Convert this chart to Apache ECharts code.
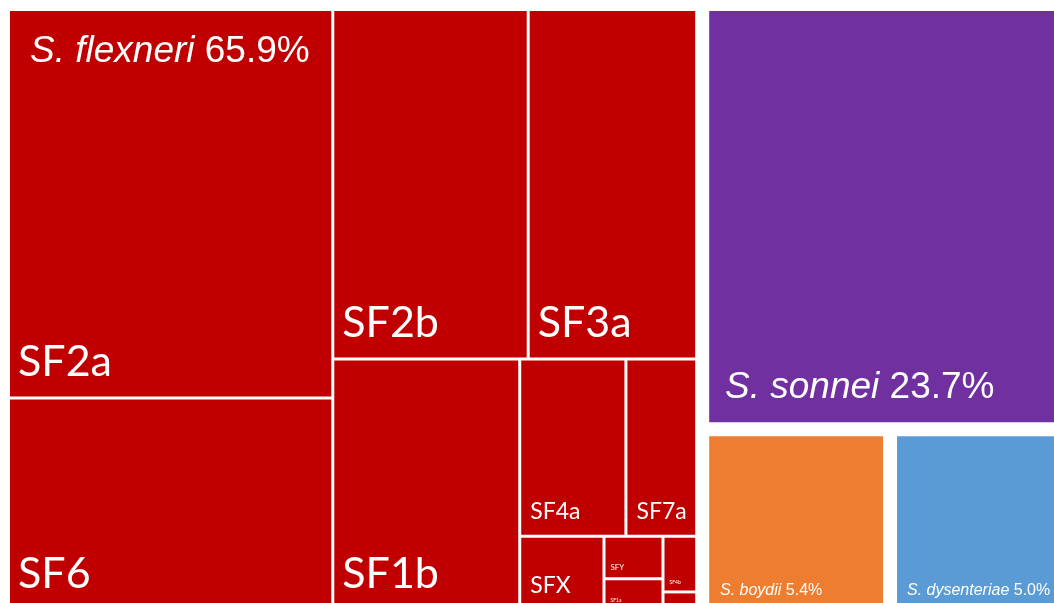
<!DOCTYPE html>
<html>
<head>
<meta charset="utf-8">
<title>Shigella species and S. flexneri serotypes</title>
<script src="https://cdn.jsdelivr.net/npm/echarts@6/dist/echarts.min.js"></script>
<style>
  html, body { margin: 0; padding: 0; background: #fff; }
  #chart { width: 1054px; height: 603px; }
</style>
</head>
<body>
<div id="chart"></div>
<script>
  // share of all isolates (%) per species
  var species = ['S. flexneri', 'S. sonnei', 'S. boydii', 'S. dysenteriae'];
  var speciesPct = [65.9, 23.7, 5.4, 5.0];

  // S. flexneri serotypes (% of all isolates), kept in the order they are laid out
  var serotypes = ['SF2a', 'SF6', 'SF2b', 'SF3a', 'SF1b', 'SF4a', 'SF7a', 'SFX', 'SFY', 'SF1a', 'SF4b', 'SF3b'];
  var serotypePct = [20.1, 11.0, 10.9, 9.4, 7.5, 3.0, 2.0, 1.0, 0.4, 0.3, 0.3, 0.1];

  var speciesColors = ['#C00000', '#7030A0', '#ED7D31', '#5B9BD5'];
  var arial = '"Liberation Sans", Arial, sans-serif';
  var calibri = 'Lato, "Open Sans", sans-serif';

  // where each species caption sits (Excel draws them over the cells)
  var captionSpots = [[30, 33, 37], [725, 369, 37], [720, 583, 16], [907, 583, 16]];

  function serotypeLabel(v) {
    var size = v >= 5 ? 43 : v >= 0.9 ? 23 : v >= 0.4 ? 8 : v >= 0.2 ? 5 : 0;
    if (!size) return { show: false };
    return {
      show: true,
      position: 'insideBottomLeft',
      distance: size > 30 ? 8 : size > 10 ? 9 : 5,
      padding: [0, 0, size > 30 ? 5 : size > 10 ? 3 : 1, 0],
      fontSize: size,
      fontFamily: calibri,
      color: '#fff'
    };
  }

  var data = species.map(function (name, i) {
    var node = {
      name: name,
      value: speciesPct[i],
      itemStyle: { color: speciesColors[i] },
      label: { show: false }
    };
    if (i === 0) {
      node.children = serotypes.map(function (s, j) {
        return {
          name: s,
          value: serotypePct[j],
          itemStyle: { color: speciesColors[0] },
          label: serotypeLabel(serotypePct[j])
        };
      });
    }
    return node;
  });

  var captions = species.map(function (name, i) {
    var spot = captionSpots[i];
    var size = spot[2];
    return {
      type: 'text',
      left: spot[0],
      top: spot[1],
      z: 100,
      silent: true,
      style: {
        text: '{i|' + name + '} {r|' + speciesPct[i].toFixed(1) + '%}',
        fontSize: size,
        fontFamily: arial,
        fill: '#fff',
        rich: {
          i: { fontStyle: 'italic', fontSize: size, fontFamily: arial, fill: '#fff' },
          r: { fontSize: size, fontFamily: arial, fill: '#fff' }
        }
      }
    };
  });

  var chart = echarts.init(document.getElementById('chart'));
  chart.setOption({
    animation: false,
    backgroundColor: '#fff',
    graphic: captions,
    series: [{
      type: 'treemap',
      left: 10,
      top: 11,
      width: 1047,
      height: 598,
      roam: false,
      nodeClick: false,
      silent: true,
      sort: false,
      squareRatio: 1.3,
      breadcrumb: { show: false },
      upperLabel: { show: false },
      itemStyle: { borderColor: '#fff' },
      levels: [
        { itemStyle: { borderWidth: 0, gapWidth: 14, borderColor: '#fff' } },
        { itemStyle: { borderWidth: 0, gapWidth: 3, borderColor: '#fff' } },
        { itemStyle: { borderWidth: 0, gapWidth: 0, borderColor: '#fff' } }
      ],
      data: data
    }]
  });
</script>
</body>
</html>
